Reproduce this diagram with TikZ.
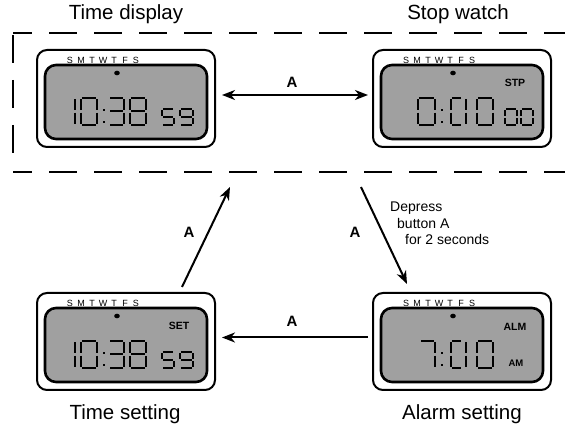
\documentclass[tikz,border=0pt]{standalone}
\usepackage{fontspec}
\setmainfont{Liberation Sans}
\usetikzlibrary{arrows.meta}

\definecolor{lcdgray}{RGB}{160,160,160}

\tikzset{
  watchcase/.style={draw, line width=2pt, rounded corners=10pt,
    minimum width=178pt, minimum height=97pt, inner sep=0pt, outer sep=0pt},
  lcdpanel/.style={draw, line width=2.6pt, rounded corners=11pt, fill=lcdgray},
  lcdseg/.style={line width=2pt, line cap=butt},
  dayletter/.style={font=\fontsize{9}{10}\selectfont, inner sep=0pt},
  modetag/.style={font=\fontsize{10.5}{11}\selectfont\bfseries, inner sep=0pt},
  smalltag/.style={font=\fontsize{9.5}{10}\selectfont\bfseries, inner sep=0pt},
  caption/.style={font=\fontsize{20.5}{24}\selectfont, inner sep=0pt, anchor=base},
  keylabel/.style={font=\fontsize{15}{16}\selectfont\bfseries, inner sep=0pt},
  note/.style={font=\fontsize{14}{16}\selectfont, inner sep=0pt, anchor=base west},
  flow/.style={line width=2pt, -{Stealth[length=13pt,width=10pt,inset=4pt]}},
  bothways/.style={line width=2pt,
    {Stealth[length=13pt,width=10pt,inset=4pt]}-{Stealth[length=13pt,width=10pt,inset=4pt]}},
  groupbox/.style={line width=2pt, dash pattern=on 28pt off 17pt},
}

% seven-segment digit: left x, top y, width, height, list of lit segments
\newcommand\lcddigit[5]{%
  \begin{scope}[shift={(#1,#2)}]
    \pgfmathsetmacro\dw{#3}\pgfmathsetmacro\dh{#4}\pgfmathsetmacro\dm{#4/2}
    \coordinate (a1) at (1.3,0);        \coordinate (a2) at (\dw-1.3,0);
    \coordinate (b1) at (\dw,1.3);      \coordinate (b2) at (\dw,\dm-1.1);
    \coordinate (c1) at (\dw,\dm+1.1);  \coordinate (c2) at (\dw,\dh-1.3);
    \coordinate (d1) at (1.3,\dh);      \coordinate (d2) at (\dw-1.3,\dh);
    \coordinate (e1) at (0,\dm+1.1);    \coordinate (e2) at (0,\dh-1.3);
    \coordinate (f1) at (0,1.3);        \coordinate (f2) at (0,\dm-1.1);
    \coordinate (g1) at (1.3,\dm);      \coordinate (g2) at (\dw-1.3,\dm);
    \foreach \s in {#5} {\draw[lcdseg] (\s1) -- (\s2);}
  \end{scope}}

% colon of the display: x, top y of the digits
\newcommand\lcdcolon[2]{%
  \fill (#1-1.3,#2+10.7) rectangle ++(2.6,2.6);
  \fill (#1-1.3,#2+22.7) rectangle ++(2.6,2.6);}

% watch body: node name, left x, top y
\newcommand\watchbody[3]{%
  \node[watchcase] (#1) at (#2+89,#3+48.5) {};
  \begin{scope}[shift={(#2,#3)}]
    \draw[lcdpanel] (8,15) rectangle (170,89);
    \foreach \l [count=\i from 0] in {S,M,T,W,T,F,S}
      \node[dayletter] (#1-day\i) at (33+11*\i,10) {\l};
    \fill (80,23) ellipse [x radius=2.8pt, y radius=2.3pt];
  \end{scope}}

% 10:38 59
\newcommand\clockdigits{%
  \lcddigit{22}{48}{16}{27}{b,c}
  \lcddigit{44}{48}{16}{27}{a,b,c,d,e,f}
  \lcdcolon{67}{48}
  \lcddigit{72}{48}{15}{27}{a,b,c,d,g}
  \lcddigit{93}{48}{16}{27}{a,b,c,d,e,f,g}
  \lcddigit{125}{59}{12}{16}{a,f,g,c,d}
  \lcddigit{143}{59}{13}{16}{a,b,c,d,f,g}}

% :00 part shared by stopwatch and alarm
\newcommand\minutedigits{%
  \lcdcolon{69}{48}
  \lcddigit{78}{48}{11}{27}{a,d,e,f}
  \lcddigit{77}{48}{16}{27}{b,c}
  \lcddigit{104}{48}{16}{27}{a,b,c,d,e,f}}

\begin{document}
\begin{tikzpicture}[x=1pt,y=-1pt]
  \useasboundingbox (0,0) rectangle (565,427);

  % dashed frame around the two display modes
  \draw[groupbox, dash phase=9pt] (13,33) -- (566,33);
  \draw[groupbox, dash phase=9pt] (13,172) -- (566,172);
  \draw[groupbox] (13,35) -- (13,153);

  % Time display
  \watchbody{disp}{37}{50}
  \begin{scope}[shift={(37,50)}]
    \clockdigits
  \end{scope}

  % Stop watch
  \watchbody{stop}{373}{50}
  \begin{scope}[shift={(373,50)}]
    \lcddigit{45}{48}{17}{27}{a,b,c,d,e,f}
    \minutedigits
    \lcddigit{132}{59}{12}{16}{a,b,c,d,e,f}
    \lcddigit{148}{59}{12}{16}{a,b,c,d,e,f}
    \node[modetag] (stoptag) at (142,33) {STP};
  \end{scope}

  % Time setting
  \watchbody{tset}{37}{293}
  \begin{scope}[shift={(37,293)}]
    \clockdigits
    \node[modetag] (settag) at (142,33) {SET};
  \end{scope}

  % Alarm setting
  \watchbody{alarm}{373}{293}
  \begin{scope}[shift={(373,293)}]
    \lcddigit{47}{48}{15}{27}{a,b,c}
    \minutedigits
    \node[modetag] (almtag) at (142,34) {ALM};
    \node[smalltag] (amtag) at (143,70) {AM};
  \end{scope}

  % captions
  \node[caption] (capdisp) at (126,20) {Time display};
  \node[caption] (capstop) at (458,20) {Stop watch};
  \node[caption] (capset) at (125,420) {Time setting};
  \node[caption] (capalarm) at (462,420) {Alarm setting};

  % free ends of the diagonal arrows, just below the frame
  \coordinate (holdstart) at (361,187);
  \coordinate (backend) at (230,187);

  % mode changes
  \draw[bothways] ([xshift=7pt,yshift=3.5pt]disp.east) -- ([xshift=-5pt,yshift=3.5pt]stop.west);
  \draw[flow] (holdstart) -- ([xshift=34pt,yshift=9pt]alarm.north west);
  \draw[flow] ([xshift=-5pt,yshift=4pt]alarm.west) -- ([xshift=7pt,yshift=4pt]tset.east);
  \draw[flow] ([xshift=145pt,yshift=6pt]tset.north west) -- (backend);

  \node[keylabel] (keytop) at (292,82) {A};
  \node[keylabel] (keyright) at (355,232) {A};
  \node[keylabel] (keybottom) at (292,321) {A};
  \node[keylabel] (keyleft) at (189,232) {A};

  \node[note] (hold1) at (390,212) {Depress};
  \node[note] (hold2) at (397,228.5) {button A};
  \node[note] (hold3) at (405,245) {for 2 seconds};
\end{tikzpicture}
\end{document}
